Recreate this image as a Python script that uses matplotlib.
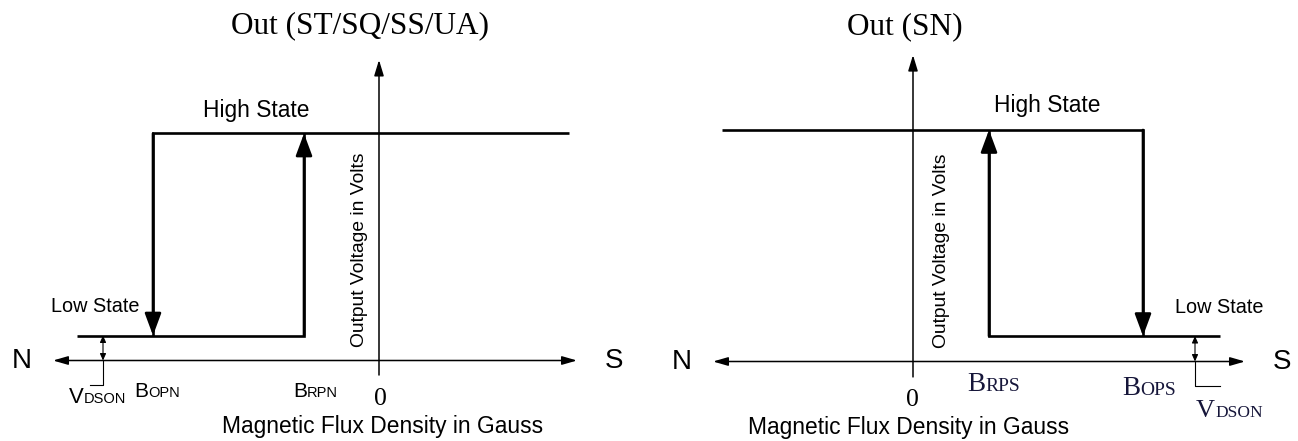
import matplotlib
matplotlib.use("Agg")
import matplotlib.pyplot as plt
from matplotlib import font_manager
from matplotlib.patches import FancyArrowPatch

# --- data: one entry per panel (left = N-pole output, right = S-pole output) ---
panel_titles = ["Out (ST/SQ/SS/UA)", "Out (SN)"]
b_op = [-226, 230]              # operate point (Gauss, arbitrary scale)
b_rp = [-75, 76]                # release point
b_op_sub = ["OPN", "OPS"]
b_rp_sub = ["RPN", "RPS"]
v_high = [5.0, 5.1]             # output high level (V, arbitrary scale)
v_low = [0.55, 0.56]            # output low level = V_DSON
high_end = [190, -191]          # far end of the high state line
low_end = [-302, 307]           # far end of the low state line
x_axis_ends = [(-326, 198), (-200, 332)]
y_axis_ends = [(-0.32, 6.62), (-0.34, 6.75)]
vdson_x = [-276, 282]
vdson_elbow = [-289, 307]
x_label = "Magnetic Flux Density in Gauss"
y_label = "Output Voltage in Volts"

# --- layout (pixels of the 1298x441 picture) ---
W, H = 1298, 441
PX_PER_V = 45.4
axis_col_px = [379, 913]
axis_row_px = [360.5, 361.5]
panel_px = [(0, 649), (649, 1298)]

names = {f.name for f in font_manager.fontManager.ttflist}
if "Liberation Sans Narrow" in names:
    narrow, k = "Liberation Sans Narrow", 1.0
else:
    narrow, k = "Liberation Sans", 0.84
serif = "Liberation Serif"
navy = "#16163a"

fig = plt.figure(figsize=(W / 100, H / 100), dpi=100)

for i in range(2):
    x0, x1 = panel_px[i]
    ax = fig.add_axes([x0 / W, 0, (x1 - x0) / W, 1])
    ax.set_xlim(x0 - axis_col_px[i], x1 - axis_col_px[i])
    ax.set_ylim((axis_row_px[i] - H) / PX_PER_V, axis_row_px[i] / PX_PER_V)
    ax.axis("off")

    hi, lo = v_high[i], v_low[i]

    # axes with arrows
    xa, xb = x_axis_ends[i]
    ax.add_patch(FancyArrowPatch((xa, 0), (xb, 0), arrowstyle="<|-|>,head_length=9,head_width=2.6",
                                 mutation_scale=1, lw=1.1, color="black", shrinkA=0, shrinkB=0))
    ya, yb = y_axis_ends[i]
    ax.add_patch(FancyArrowPatch((0, ya), (0, yb), arrowstyle="-|>,head_length=9.5,head_width=2.9",
                                 mutation_scale=1, lw=1.1, color="black", shrinkA=0, shrinkB=0))

    # hysteresis loop
    ax.plot([high_end[i], b_op[i], b_op[i]], [hi, hi, lo], color="black", lw=1.9,
            solid_joinstyle="miter", solid_capstyle="butt")
    ax.plot([low_end[i], b_rp[i], b_rp[i]], [lo, lo, hi], color="black", lw=1.9,
            solid_joinstyle="miter", solid_capstyle="butt")
    ax.add_patch(FancyArrowPatch((b_op[i], hi), (b_op[i], lo), arrowstyle="-|>,head_length=13.5,head_width=5",
                                 mutation_scale=1, lw=1.9, color="black", shrinkA=0, shrinkB=0))
    ax.add_patch(FancyArrowPatch((b_rp[i], lo), (b_rp[i], hi), arrowstyle="-|>,head_length=13.5,head_width=5",
                                 mutation_scale=1, lw=1.9, color="black", shrinkA=0, shrinkB=0))

    # V_DSON marker
    ax.add_patch(FancyArrowPatch((vdson_x[i], 0), (vdson_x[i], lo), arrowstyle="<|-|>,head_length=4,head_width=1.8",
                                 mutation_scale=1, lw=0.8, color="black", shrinkA=0, shrinkB=0))
    ax.plot([vdson_x[i], vdson_x[i], vdson_elbow[i]], [0, -0.55, -0.55], color="black", lw=0.8)

    # texts
    ax.text(-19 if i == 0 else -8, 7.2, panel_titles[i], family=serif, fontsize=22.5,
            ha="center", va="baseline")
    ax.text(-123 if i == 0 else 134, 5.36 if i == 0 else 5.5, "High State", family=narrow,
            fontsize=19.5 * k, ha="center", va="baseline")
    ax.text(-284 if i == 0 else 306, 1.07, "Low State", family=narrow, fontsize=17 * k,
            ha="center", va="baseline")
    ax.text(xa - 31, -0.17, "N", family="Liberation Sans", fontsize=20, ha="center", va="baseline")
    ax.text(xb + 37, -0.17, "S", family="Liberation Sans", fontsize=20, ha="center", va="baseline")
    ax.text(1 if i == 0 else -0.5, -0.99, "0", family=serif, fontsize=18.5, ha="center", va="baseline")
    ax.text(4 if i == 0 else -4, -1.6, x_label, family=narrow, fontsize=19.5 * k,
            ha="center", va="baseline")
    ax.text(-19 if i == 0 else 29, 2.44, y_label, family=narrow, fontsize=16.5 * k,
            rotation=90, ha="center", va="center")

    if i == 0:
        big, small, fam, col = 18 * k, 12.5 * k, narrow, "black"
        op_y, rp_y, v_y, vsize = -0.8, -0.8, -0.94, 19 * k
        op_dx, rp_dx, v_dx = -5, 3, -19
    else:
        big, small, fam, col = 19.5, 14, serif, navy
        op_y, rp_y, v_y, vsize = -0.74, -0.65, -1.22, 19
        op_dx, rp_dx, v_dx = -3, -4, 20
    for bx, by, sub in [(b_op[i] + op_dx, op_y, b_op_sub[i]), (b_rp[i] + rp_dx, rp_y, b_rp_sub[i])]:
        ax.text(bx, by, "B", family=fam, fontsize=big, color=col, ha="right", va="baseline")
        ax.text(bx, by, sub, family=fam, fontsize=small, color=col, ha="left", va="baseline")
    ax.text(vdson_x[i] + v_dx, v_y, "V", family=fam, fontsize=vsize, color=col, ha="right", va="baseline")
    ax.text(vdson_x[i] + v_dx, v_y, "DSON", family=fam, fontsize=12.5 * (k if i == 0 else 1), color=col,
            ha="left", va="baseline")

fig.savefig("out.png", dpi=100)
